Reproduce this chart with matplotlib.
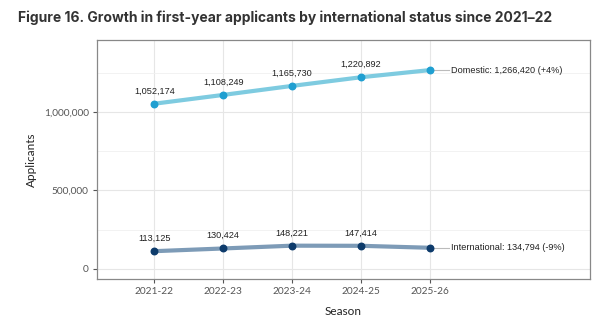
import matplotlib.pyplot as plt
from matplotlib.ticker import FuncFormatter, MultipleLocator

# data
seasons = ["2021-22", "2022-23", "2023-24", "2024-25", "2025-26"]
domestic = [1052174, 1108249, 1165730, 1220892, 1266420]
international = [113125, 130424, 148221, 147414, 134794]
end_labels = ["Domestic: 1,266,420 (+4%)", "International: 134,794 (-9%)"]

fig = plt.figure(figsize=(6.15, 3.33), dpi=100)
ax = fig.add_axes([97 / 615, 1 - 279 / 333, (590 - 97) / 615, (279 - 40) / 333])

x = list(range(len(seasons)))
series = [
    (domestic, "#7ecbe0", "#1f9fd1", end_labels[0]),
    (international, "#7d9bb7", "#0d3b6b", end_labels[1]),
]
for vals, lc, pc, lab in series:
    ax.plot(x, vals, color=lc, lw=3, zorder=3, solid_capstyle="round")
    ax.scatter(x, vals, color=pc, s=22, zorder=4)
    for xi, v in zip(x[:-1], vals[:-1]):
        ax.annotate(f"{v:,}", (xi, v), xytext=(0, 6), textcoords="offset points",
                    ha="center", va="bottom", fontsize=6.6, color="#222222",
                    family="Liberation Sans")
    ax.plot([x[-1], x[-1] + 0.28], [vals[-1], vals[-1]], color="#bbbbbb", lw=0.8, zorder=2)
    ax.text(x[-1] + 0.3, vals[-1], lab, ha="left", va="center", fontsize=6.6,
            color="#222222", family="Liberation Sans")

ax.set_xlim(-0.83, 6.32)
ax.set_ylim(-64000, 1458000)
ax.set_xticks(x)
ax.set_xticklabels(seasons)
ax.yaxis.set_major_locator(MultipleLocator(500000))
ax.yaxis.set_minor_locator(MultipleLocator(250000))
ax.yaxis.set_major_formatter(FuncFormatter(lambda v, p: f"{int(v):,}"))
ax.grid(True, which="major", color="#e6e6e6", lw=0.8)
ax.grid(True, which="minor", axis="y", color="#f0f0f0", lw=0.6)
ax.set_axisbelow(True)
for s in ax.spines.values():
    s.set_color("#888888")
    s.set_linewidth(0.9)
ax.tick_params(which="major", length=3, color="#555555", labelsize=7.3, labelcolor="#555555", pad=3)
ax.tick_params(which="minor", length=0)
for t in ax.get_xticklabels() + ax.get_yticklabels():
    t.set_family("Lato")

ax.set_xlabel("Season", fontsize=8.5, color="#222222", labelpad=7, family="Lato")
ax.set_ylabel("Applicants", fontsize=8.5, color="#222222", labelpad=5, family="Lato")

fig.text(18 / 615, 1 - 18 / 333, "Figure 16. Growth in first-year applicants by international status since 2021\u201322",
         fontsize=10, fontweight="bold", color="#333333", family="Inter", va="center", ha="left")

fig.savefig("out.png", dpi=100)
